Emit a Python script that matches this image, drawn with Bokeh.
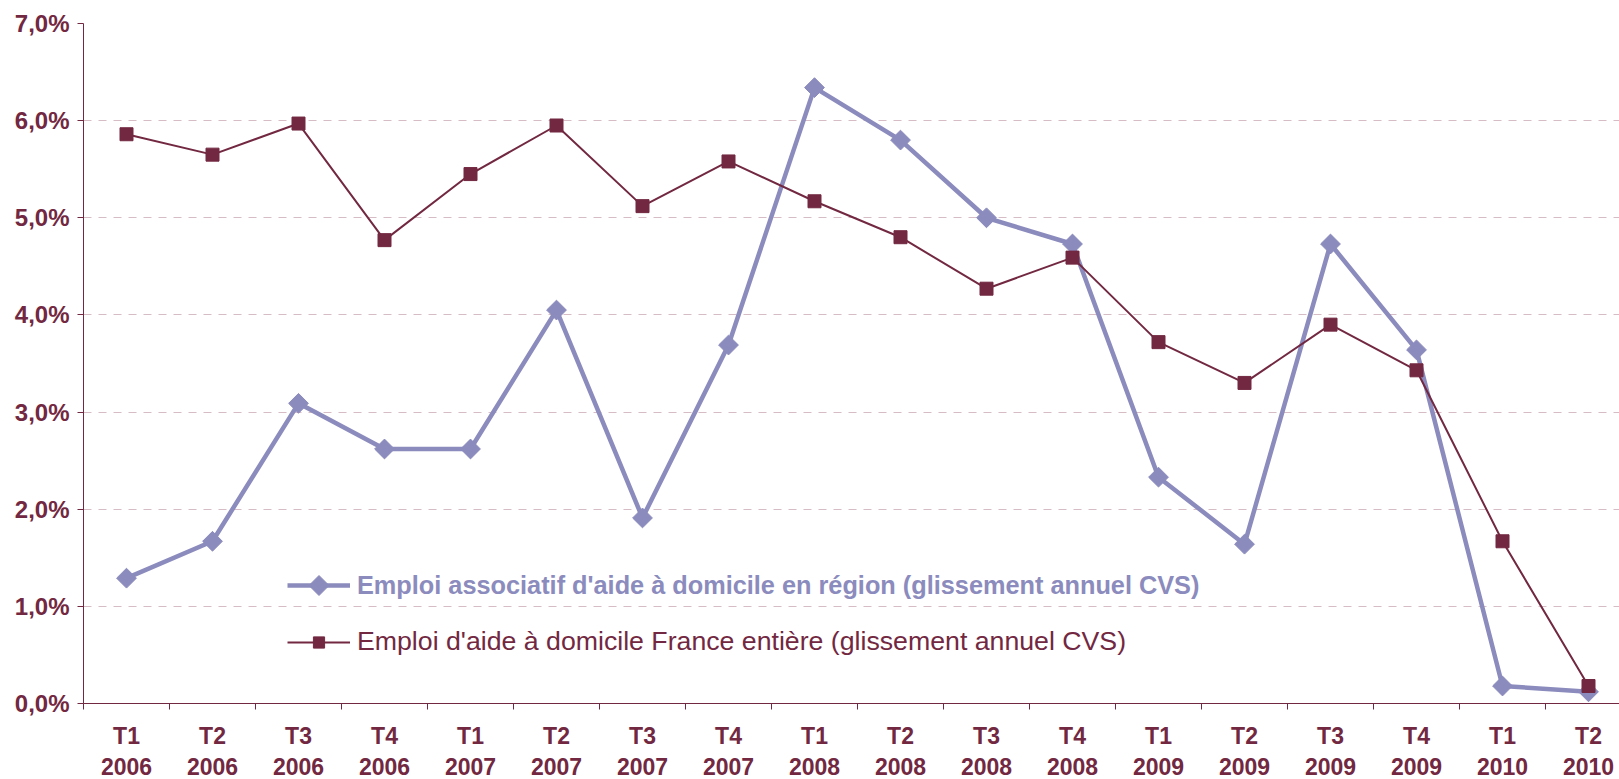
import math
from bokeh.plotting import figure
from bokeh.models import (Range1d, FixedTicker, Legend, LegendItem, LinearAxis,
                          PolyAnnotation)
from bokeh.embed import file_html
from bokeh.resources import INLINE

quarters = ["T1", "T2", "T3", "T4", "T1", "T2", "T3", "T4", "T1", "T2", "T3", "T4",
            "T1", "T2", "T3", "T4", "T1", "T2"]
years = ["2006", "2006", "2006", "2006", "2007", "2007", "2007", "2007",
         "2008", "2008", "2008", "2008", "2009", "2009", "2009", "2009", "2010", "2010"]
region = [1.29, 1.67, 3.09, 2.62, 2.62, 4.05, 1.91, 3.69, 6.34, 5.80, 5.00, 4.73,
          2.33, 1.64, 4.73, 3.64, 0.18, 0.12]
france = [5.86, 5.65, 5.97, 4.77, 5.45, 5.95, 5.12, 5.58, 5.17, 4.80, 4.27, 4.59,
          3.72, 3.30, 3.90, 3.43, 1.67, 0.18]
y_ticks = [0, 1, 2, 3, 4, 5, 6, 7]
y_labels = ["0,0%", "1,0%", "2,0%", "3,0%", "4,0%", "5,0%", "6,0%", "7,0%"]
name_region = "Emploi associatif d'aide à domicile en région (glissement annuel CVS)"
name_france = "Emploi d'aide à domicile France entière (glissement annuel CVS)"

MAROON = "#722841"
LAVENDER = "#8B8BBD"
GRID = "#d6bcc4"
FONT = "Liberation Sans"

n = len(quarters)
xs = [i + 0.5 for i in range(n)]
W, H = 1619, 779
left, top, bottom = 83, 23, 76
frame_w = W - left
step = 86.0

p = figure(width=W, height=H, output_backend="svg", toolbar_location=None,
           x_range=Range1d(0, frame_w / step), y_range=Range1d(0, 7),
           min_border_left=left, min_border_right=0, min_border_top=top,
           min_border_bottom=bottom, x_axis_location=None, y_axis_location="left")
p.outline_line_color = None
p.background_fill_color = "white"
p.border_fill_color = "white"

# grid
p.xgrid.grid_line_color = None
p.ygrid.ticker = FixedTicker(ticks=y_ticks[1:-1])
p.ygrid.grid_line_color = GRID
p.ygrid.grid_line_dash = "8 7"
p.ygrid.grid_line_width = 1

# y axis
ya = p.yaxis[0]
ya.ticker = FixedTicker(ticks=y_ticks)
ya.major_label_overrides = {t: l for t, l in zip(y_ticks, y_labels)}
ya.axis_line_color = MAROON
ya.axis_line_width = 1
ya.major_tick_line_color = MAROON
ya.major_tick_out = 6
ya.major_tick_in = 0
ya.minor_tick_line_color = None
ya.major_label_text_font = FONT
ya.major_label_text_font_style = "bold"
ya.major_label_text_font_size = "24px"
ya.major_label_text_color = MAROON
ya.major_label_standoff = 8

# x axis: quarters row
xa = LinearAxis(ticker=FixedTicker(ticks=xs, minor_ticks=list(range(n + 1))))
xa.major_label_overrides = {x: q for x, q in zip(xs, quarters)}
xa.axis_line_color = MAROON
xa.axis_line_width = 1
xa.major_tick_line_color = None
xa.major_tick_out = 0
xa.major_tick_in = 0
xa.minor_tick_line_color = MAROON
xa.minor_tick_out = 6
xa.minor_tick_in = 0
xa.major_label_text_font = FONT
xa.major_label_text_font_style = "bold"
xa.major_label_text_font_size = "23px"
xa.major_label_text_color = MAROON
xa.major_label_standoff = 13
p.add_layout(xa, "below")

# x axis: years row
xa2 = LinearAxis(ticker=FixedTicker(ticks=xs))
xa2.major_label_overrides = {x: y for x, y in zip(xs, years)}
xa2.axis_line_color = None
xa2.major_tick_line_color = None
xa2.minor_tick_line_color = None
xa2.major_tick_out = 0
xa2.major_tick_in = 0
xa2.minor_tick_out = 0
xa2.minor_tick_in = 0
xa2.major_label_text_font = FONT
xa2.major_label_text_font_style = "bold"
xa2.major_label_text_font_size = "23px"
xa2.major_label_text_color = MAROON
xa2.major_label_standoff = 6
p.add_layout(xa2, "below")

# series
r1l = p.line(xs, region, line_color=LAVENDER, line_width=4.5)
r1m = p.scatter(xs, region, marker="square", size=14, angle=math.pi / 4,
                fill_color=LAVENDER, line_color=LAVENDER, line_join="round")
r2l = p.line(xs, france, line_color=MAROON, line_width=2)
r2m = p.scatter(xs, france, marker="square", size=13, fill_color=MAROON,
                line_color=MAROON)

# legends
leg_x, leg1_cy, leg2_cy = 204, 118, 61
leg1 = Legend(items=[LegendItem(label=name_region, renderers=[r1l])],
              location=(leg_x, leg1_cy - 17), glyph_height=34)
leg2 = Legend(items=[LegendItem(label=name_france, renderers=[r2l, r2m])],
              location=(leg_x, leg2_cy - 15), glyph_height=28)
for lg, col, style, fs in ((leg1, LAVENDER, "bold", "25.3px"),
                           (leg2, MAROON, "normal", "26.7px")):
    lg.label_text_font = FONT
    lg.label_text_font_size = fs
    lg.label_text_font_style = style
    lg.label_text_color = col
    lg.glyph_width = 63
    lg.label_standoff = 7
    lg.padding = 0
    lg.margin = 0
    lg.border_line_color = None
    lg.background_fill_alpha = 0
    p.add_layout(lg, "center")

# diamond symbol of the first legend entry
cx = leg_x + 63 / 2
r = 10
p.add_layout(PolyAnnotation(xs=[cx - r, cx, cx + r, cx], ys=[leg1_cy, leg1_cy + r, leg1_cy, leg1_cy - r],
                            xs_units="screen", ys_units="screen",
                            fill_color=LAVENDER, fill_alpha=1, line_color=LAVENDER,
                            line_alpha=1))

open("out.html", "w").write(file_html(p, INLINE))
